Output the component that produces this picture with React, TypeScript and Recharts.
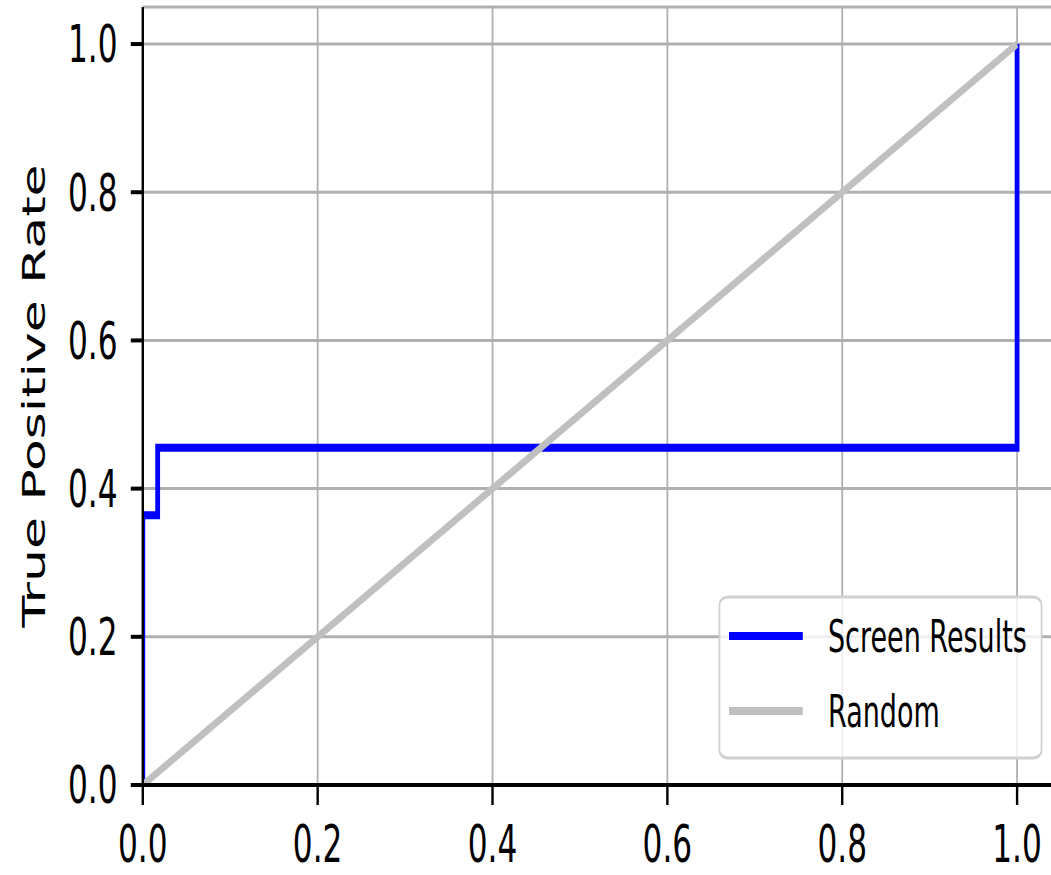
import React from 'react';
import { LineChart, Line, XAxis, YAxis, CartesianGrid, Legend, Label } from 'recharts';

// Screen Results ROC curve (false positive rate, true positive rate)
const screenFpr = [0, 0, 0.017, 0.017, 1.0, 1.0];
const screenTpr = [0, 0.364, 0.364, 0.455, 0.455, 1.0];
// Random classifier diagonal
const randomFpr = [0, 1.0];
const randomTpr = [0, 1.0];
const axisTicks = [0, 0.2, 0.4, 0.6, 0.8, 1.0];
const seriesNames = ['Screen Results', 'Random'];

const screenData = screenFpr.map((x, i) => ({ x, y: screenTpr[i] }));
const randomData = randomFpr.map((x, i) => ({ x, y: randomTpr[i] }));

const FONT = 'DejaVu Sans';
const SX = 0.6;
const W = 1773;
const H = 875;

const YLabel = (props: any) => {
  const vb = props.viewBox || { x: 0, y: 0, width: 0, height: 0 };
  const cx = vb.x + 75;
  const cy = vb.y + vb.height / 2;
  return (
    <text
      x={cx}
      y={cy}
      transform={`rotate(-90 ${cx} ${cy})`}
      textAnchor="middle"
      fontFamily={FONT}
      fontSize={52}
      fill="#000"
    >
      True Positive Rate
    </text>
  );
};

const LegendBox = (props: any) => {
  const payload = [...(props.payload || [])].sort(
    (a: any, b: any) => seriesNames.indexOf(a.value) - seriesNames.indexOf(b.value)
  );
  return (
    <svg width={541} height={165} style={{ display: 'block' }}>
      <rect x={2} y={2} width={537} height={161} rx={14} ry={8} fill="#fff" fillOpacity={0.8} stroke="#d0d0d0" strokeWidth={3} />
      {payload.map((p: any, i: number) => (
        <g key={i}>
          <line x1={18} x2={141} y1={41 + i * 75} y2={41 + i * 75} stroke={p.color} strokeWidth={8} />
          <text x={183} y={57 + i * 75} fontFamily={FONT} fontSize={45} fill="#000">
            {p.value}
          </text>
        </g>
      ))}
    </svg>
  );
};

export default function App() {
  const tickStyle = { fill: '#000', fontSize: 52, fontFamily: FONT };
  return (
    <div style={{ position: 'absolute', left: 0, top: 0, width: 1051, height: 875, overflow: 'hidden', background: '#fff' }}>
      <div style={{ transform: `scaleX(${SX})`, transformOrigin: '0 0', width: W, height: H }}>
        <LineChart width={W} height={H} margin={{ top: 7, right: 5, bottom: 0, left: 0 }}>
          <CartesianGrid stroke="#b0b0b0" strokeWidth={3} />
          <XAxis
            type="number"
            dataKey="x"
            domain={[0, 1.05]}
            ticks={axisTicks}
            interval={0}
            allowDataOverflow
            tickFormatter={(v: number) => v.toFixed(1)}
            tick={tickStyle}
            tickSize={20}
            tickMargin={20}
            height={90}
            axisLine={{ stroke: '#000', strokeWidth: 4 }}
            tickLine={{ stroke: '#000', strokeWidth: 4 }}
          />
          <XAxis
            xAxisId="top"
            orientation="top"
            type="number"
            dataKey="x"
            domain={[0, 1.05]}
            tick={false}
            tickLine={false}
            height={0}
            axisLine={{ stroke: '#000', strokeWidth: 4 }}
          />
          <YAxis
            type="number"
            dataKey="y"
            domain={[0, 1.05]}
            ticks={axisTicks}
            interval={0}
            allowDataOverflow
            tickFormatter={(v: number) => v.toFixed(1)}
            tick={tickStyle}
            tickSize={20}
            tickMargin={22}
            width={238}
            axisLine={{ stroke: '#000', strokeWidth: 4 }}
            tickLine={{ stroke: '#000', strokeWidth: 4 }}
          >
            <Label content={<YLabel />} />
          </YAxis>
          <Line
            data={screenData}
            dataKey="y"
            name={seriesNames[0]}
            type="linear"
            stroke="#0000ff"
            strokeWidth={8}
            dot={false}
            activeDot={false}
            isAnimationActive={false}
          />
          <Line
            data={randomData}
            dataKey="y"
            name={seriesNames[1]}
            type="linear"
            stroke="#c0c0c0"
            strokeWidth={8}
            dot={false}
            activeDot={false}
            isAnimationActive={false}
          />
          <Legend
            layout="vertical"
            align="center"
            verticalAlign="middle"
            content={<LegendBox />}
            wrapperStyle={{ position: 'absolute', left: 1197, top: 595, width: 541, height: 165 }}
          />
        </LineChart>
      </div>
    </div>
  );
}
